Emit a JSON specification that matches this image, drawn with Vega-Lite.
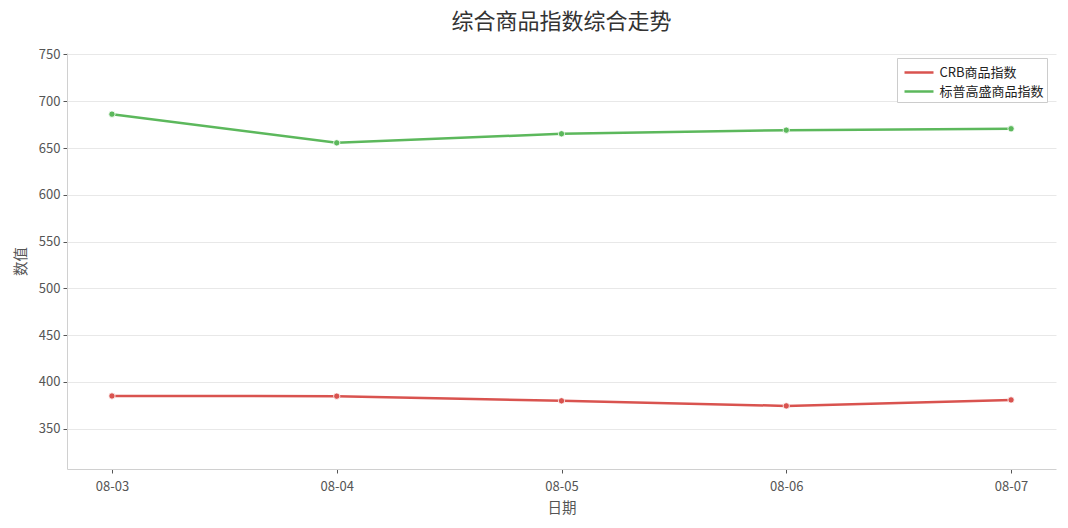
{
  "$schema": "https://vega.github.io/schema/vega-lite/v6.json",
  "width": 989,
  "height": 416,
  "autosize": {"type": "none"},
  "padding": {"left": 67, "top": 53, "right": 12, "bottom": 59},
  "background": "white",
  "title": {
    "text": "综合商品指数综合走势",
    "font": "Noto Sans CJK SC",
    "fontSize": 22,
    "fontWeight": "normal",
    "color": "#333333",
    "anchor": "middle",
    "offset": 14
  },
  "config": {
    "view": {"stroke": null},
    "font": "Noto Sans CJK SC",
    "axis": {
      "labelFont": "Noto Sans CJK SC",
      "titleFont": "Noto Sans CJK SC",
      "labelFontSize": 13,
      "labelColor": "#555555",
      "titleFontSize": 14.5,
      "titleFontWeight": "normal",
      "titleColor": "#555555",
      "domainColor": "#d0d0d0",
      "tickColor": "#555555",
      "tickSize": 4,
      "gridColor": "#e8e8e8"
    },
    "legend": {
      "labelFont": "Noto Sans CJK SC",
      "labelFontSize": 13,
      "labelColor": "#222222"
    }
  },
  "data": {
    "values": [
      {"date": "08-03", "series": "CRB商品指数", "value": 384.8},
      {"date": "08-04", "series": "CRB商品指数", "value": 384.6},
      {"date": "08-05", "series": "CRB商品指数", "value": 379.6},
      {"date": "08-06", "series": "CRB商品指数", "value": 374.2},
      {"date": "08-07", "series": "CRB商品指数", "value": 380.6},
      {"date": "08-03", "series": "标普高盛商品指数", "value": 686.2},
      {"date": "08-04", "series": "标普高盛商品指数", "value": 655.5},
      {"date": "08-05", "series": "标普高盛商品指数", "value": 665.2},
      {"date": "08-06", "series": "标普高盛商品指数", "value": 669.1},
      {"date": "08-07", "series": "标普高盛商品指数", "value": 670.6}
    ]
  },
  "encoding": {
    "x": {
      "field": "date",
      "type": "ordinal",
      "scale": {"type": "point", "padding": 0.2},
      "axis": {"title": "日期", "labelAngle": 0, "grid": false, "labelPadding": 7, "titlePadding": 8}
    },
    "y": {
      "field": "value",
      "type": "quantitative",
      "scale": {"domain": [306.7, 751.6], "nice": false, "zero": false},
      "axis": {"title": "数值", "values": [350, 400, 450, 500, 550, 600, 650, 700, 750], "grid": true, "labelPadding": 3, "titlePadding": 10}
    },
    "color": {
      "field": "series",
      "type": "nominal",
      "scale": {"domain": ["CRB商品指数", "标普高盛商品指数"], "range": ["#d9534f", "#5cb85c"]},
      "legend": {
        "title": null,
        "orient": "none",
        "legendX": 830,
        "legendY": 5,
        "symbolType": "M-1.45,0H1.45",
        "symbolStrokeWidth": 2.5,
        "symbolSize": 400,
        "symbolOffset": 7.5,
        "fillColor": "white",
        "strokeColor": "#cccccc",
        "padding": 3,
        "rowPadding": 0,
        "labelOffset": 9
      }
    }
  },
  "layer": [
    {"mark": {"type": "line", "strokeWidth": 2.5}},
    {"mark": {"type": "point", "filled": true, "size": 40, "opacity": 1, "stroke": "white", "strokeWidth": 0.8}}
  ]
}
